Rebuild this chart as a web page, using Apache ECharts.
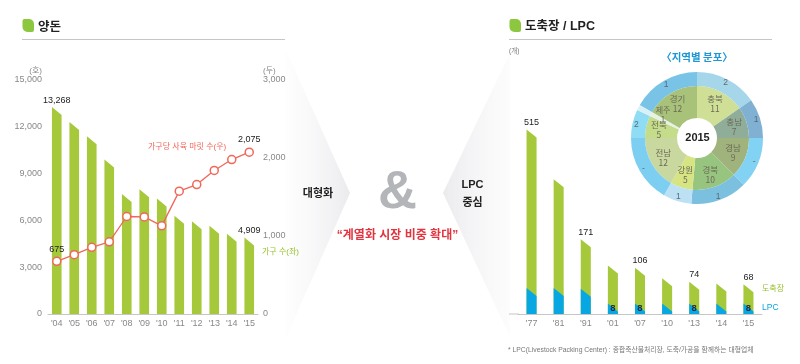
<!DOCTYPE html>
<html><head><meta charset="utf-8">
<script src="https://cdn.jsdelivr.net/npm/echarts@6/dist/echarts.min.js"></script>
<style>html,body{margin:0;padding:0;background:#fff}#c{width:800px;height:364px}</style>
</head><body><div id="c"></div>
<script>
// ---- Left chart: 양돈 ----
const pigYears = ["'04","'05","'06","'07","'08","'09","'10","'11","'12","'13","'14","'15"];
const pigFarms = [13268, 12300, 11400, 9900, 7700, 8000, 7400, 6300, 5950, 5650, 5150, 4909];
const pigPerFarm = [675, 760, 855, 925, 1250, 1245, 1130, 1575, 1660, 1840, 1980, 2075];
const pigFarmsLabelShown = [true,false,false,false,false,false,false,false,false,false,false,true];
const pigPerFarmLabelShown = [true,false,false,false,false,false,false,false,false,false,false,true];
// ---- Right chart: 도축장 / LPC ----
const slYears = ["'77","'81","'91","'01","'07","'10","'13","'14","'15"];
const slaughter = [515, 308, 171, 111, 106, 82, 74, 70, 68];
const slaughterLabelShown = [true,false,true,false,true,false,true,false,true];
const lpc = [20, 20, 19.5, 8, 8, 8, 8, 8, 8];
const lpcLabelShown = [false,false,false,true,true,false,true,false,true];
// ---- Donut: 지역별 분포 (2015) ----
const regions = ['충북','충남','경남','경북','강원','전남','전북','제주','경기'];
const regionSlaughter = [11, 7, 9, 10, 5, 12, 5, 1, 12];
const regionLpc = ['2','1','-','1','1','-','2','','1'];

const FONT = "'Liberation Sans','Noto Sans CJK KR',sans-serif";
const KFONT = "'Noto Sans CJK KR','Liberation Sans',sans-serif";
const GREEN = '#a5c93a', BLUE = '#07a7e3', CORAL = '#f0675a';
const innerColors = ['#cfe096','#8fad98','#a1b37c','#97c47e','#d6e483','#c8d89f','#c5dc8a','#e6f2e6','#a8c27a'];
const outerColors = ['#a6d6e9','#80b1d3','#82d2f3','#7cc0df','#bde1f4','#7ccff0','#8fdcf5','#d9f0f6','#78c3e6'];
const fmt = v => Number(v).toLocaleString('en-US');

function slopedBar(o) {
  return function (params, api) {
    const i = params.dataIndex;
    const xv = api.value(0), v = api.value(1);
    const cs = params.coordSys;
    const p = api.coord([xv, v]);
    const b = api.coord([xv, 0]);
    const ty = Math.max(p[1], cs.y);
    const w = api.size([1, 0])[0] * o.ratio;
    const x0 = p[0] - w / 2, x1 = p[0] + w / 2;
    const s = Math.min(o.slope, b[1] - ty);
    const children = [{
      type: 'polygon',
      shape: { points: [[x0, ty], [x1, ty + s], [x1, b[1]], [x0, b[1]]] },
      style: { fill: o.color }
    }];
    if (o.shown[i]) {
      children.push({
        type: 'text',
        style: {
          text: fmt(v), x: p[0], y: o.inside ? b[1] - 0.5 : ty - 2.5,
          align: 'center', verticalAlign: 'bottom',
          fontSize: o.fontSize, fontFamily: FONT, fontWeight: o.weight || 'normal', fill: o.labelColor
        }
      });
    }
    return { type: 'group', children };
  };
}

function txt(x, y, text, st) {
  return Object.assign({ type: 'text', x, y, z: 20, style: Object.assign({ text, align: 'left', verticalAlign: 'middle', fontFamily: FONT, fontSize: 9, fill: '#333' }, st) });
}

// small-sector (제주) label of the donut, placed beside its thin slice
const jejuIdx = regions.indexOf('제주');

const chart = echarts.init(document.getElementById('c'), null, { renderer: 'canvas' });
const option = {
  animation: false,
  textStyle: { fontFamily: FONT },
  graphic: [
    { type: 'polygon', z: 0, shape: { points: [[285, 48], [350, 193], [285, 340]] },
      style: { fill: { type: 'linear', x: 0, y: 0, x2: 1, y2: 0, colorStops: [{ offset: 0, color: 'rgba(244,244,246,0.1)' }, { offset: 1, color: 'rgba(235,235,238,1)' }] } } },
    { type: 'polygon', z: 0, shape: { points: [[443, 193], [510, 53], [510, 337]] },
      style: { fill: { type: 'linear', x: 0, y: 0, x2: 1, y2: 0, colorStops: [{ offset: 0, color: 'rgba(235,235,238,1)' }, { offset: 1, color: 'rgba(244,244,246,0.25)' }] } } },
    // headers
    { type: 'rect', z: 20, shape: { x: 22.5, y: 19, width: 11.5, height: 13, r: [2, 5, 2, 5] }, style: { fill: '#8dc63f' } },
    txt(38, 26, '양돈', { fontSize: 12.5, fontWeight: 'bold', fill: '#222', fontFamily: KFONT }),
    { type: 'line', z: 20, shape: { x1: 22, y1: 39.5, x2: 285, y2: 39.5 }, style: { stroke: '#c6c6c6', lineWidth: 1 } },
    { type: 'rect', z: 20, shape: { x: 509.5, y: 19, width: 11.5, height: 13, r: [2, 5, 2, 5] }, style: { fill: '#8dc63f' } },
    txt(525, 26.5, '도축장 / LPC', { fontSize: 12.5, fontWeight: 'bold', fill: '#222' }),
    { type: 'line', z: 20, shape: { x1: 509, y1: 39.5, x2: 772, y2: 39.5 }, style: { stroke: '#c6c6c6', lineWidth: 1 } },
    // middle
    txt(318, 193, '대형화', { fontSize: 11, fontWeight: 'bold', fill: '#222', align: 'center', fontFamily: KFONT }),
    txt(397.5, 193, '&', { fontSize: 54, fontWeight: 'bold', fill: '#b4b5b9', align: 'center' }),
    txt(472.5, 185, 'LPC', { fontSize: 11, fontWeight: 'bold', fill: '#222', align: 'center' }),
    txt(472.5, 201.5, '중심', { fontSize: 11, fontWeight: 'bold', fill: '#222', align: 'center', fontFamily: KFONT }),
    txt(397.5, 235.5, '“계열화 시장 비중 확대”', { fontSize: 12, fontWeight: 'bold', fill: '#e2343f', align: 'center' }),
    // left annotations
    txt(148, 147, '가구당 사육 마릿 수(우)', { fontSize: 8, fill: CORAL }),
    txt(262, 252, '가구 수(좌)', { fontSize: 8, fill: '#96c12e' }),
    // right annotations
    txt(509, 51.5, '(개)', { fontSize: 6.5, fill: '#777' }),
    txt(762, 288.5, '도축장', { fontSize: 8, fill: '#96c12e' }),
    txt(762, 307.5, 'LPC', { fontSize: 8.5, fill: BLUE }),
    txt(697, 57, '〈지역별 분포〉', { fontSize: 10.5, fontWeight: 'bold', fill: '#1b98d6', align: 'center', fontFamily: KFONT }),
    txt(697.5, 138, '2015', { fontSize: 11, fontWeight: 'bold', fill: '#222', align: 'center' }),
    txt(663, 114.5, regions[jejuIdx] + '\n' + regionSlaughter[jejuIdx], { fontSize: 8, lineHeight: 8.5, fill: '#6b6b58', align: 'center', fontFamily: KFONT }),
    txt(508, 350.5, '* LPC(Livestock Packing Center) : 종합축산물처리장, 도축/가공을 함께하는 대형업체', { fontSize: 6.8, fill: '#777' }),
    { type: 'line', z: 20, shape: { x1: 509, y1: 314, x2: 519, y2: 314 }, style: { stroke: '#c6c6c6', lineWidth: 1 } }
  ],
  grid: [
    { left: 48, top: 80, width: 210, height: 234 },
    { left: 518, top: 129.5, width: 244, height: 184.5 }
  ],
  xAxis: [
    { type: 'category', gridIndex: 0, data: pigYears, axisTick: { show: false },
      axisLine: { lineStyle: { color: '#c6c6c6', width: 1 } },
      axisLabel: { color: '#888', fontSize: 9, margin: 5 } },
    { type: 'category', gridIndex: 1, data: slYears, axisTick: { show: false },
      axisLine: { lineStyle: { color: '#c6c6c6', width: 1 } },
      axisLabel: { color: '#888', fontSize: 9, margin: 5 } }
  ],
  yAxis: [
    { type: 'value', gridIndex: 0, min: 0, max: 15000, interval: 3000,
      splitLine: { show: false }, axisLine: { show: false }, axisTick: { show: false },
      axisLabel: { color: '#888', fontSize: 9, margin: 6, formatter: fmt },
      name: '(호)', nameLocation: 'end', nameGap: 5,
      nameTextStyle: { color: '#888', fontSize: 8, align: 'right', padding: [0, 6, 0, 0] } },
    { type: 'value', gridIndex: 0, position: 'right', min: 0, max: 3000, interval: 1000,
      splitLine: { show: false }, axisLine: { show: false }, axisTick: { show: false },
      axisLabel: { color: '#888', fontSize: 9, margin: 5, formatter: fmt },
      name: '(두)', nameLocation: 'end', nameGap: 5,
      nameTextStyle: { color: '#888', fontSize: 8, align: 'left', padding: [0, 0, 0, 5] } },
    { type: 'value', gridIndex: 1, min: 0, max: 422, show: false },
    { type: 'value', gridIndex: 1, min: 0, max: 142, show: false }
  ],
  series: [
    { type: 'custom', xAxisIndex: 0, yAxisIndex: 0, z: 2,
      renderItem: slopedBar({ color: GREEN, ratio: 0.55, slope: 8, shown: pigFarmsLabelShown, fontSize: 9, labelColor: '#222' }),
      encode: { x: 0, y: 1 },
      data: pigFarms.map((v, i) => [i, v]) },
    { type: 'line', xAxisIndex: 0, yAxisIndex: 1, z: 5,
      data: pigPerFarm.map((v, i) => ({ value: v, label: { show: pigPerFarmLabelShown[i] } })),
      symbol: 'circle', symbolSize: 8,
      lineStyle: { color: CORAL, width: 1.3 },
      itemStyle: { color: '#fff', borderColor: CORAL, borderWidth: 1.5 },
      label: { position: 'top', distance: 3, color: '#222', fontSize: 9, formatter: p => fmt(p.value) } },
    { type: 'custom', xAxisIndex: 1, yAxisIndex: 2, z: 2,
      renderItem: slopedBar({ color: GREEN, ratio: 0.37, slope: 8, shown: slaughterLabelShown, fontSize: 9, labelColor: '#222' }),
      encode: { x: 0, y: 1 },
      data: slaughter.map((v, i) => [i, v]) },
    { type: 'custom', xAxisIndex: 1, yAxisIndex: 3, z: 3,
      renderItem: slopedBar({ color: BLUE, ratio: 0.37, slope: 8, shown: lpcLabelShown, inside: true, fontSize: 9.5, weight: 'bold', labelColor: '#1d2b3a' }),
      encode: { x: 0, y: 1 },
      data: lpc.map((v, i) => [i, v]) },
    { type: 'pie', center: [697, 138], radius: [20, 52], startAngle: 90, z: 4,
      label: { position: 'inside', formatter: p => (p.dataIndex === jejuIdx ? '' : p.name + '\n' + p.value), fontSize: 8.5, lineHeight: 10, color: '#6b6b58', fontFamily: KFONT },
      labelLine: { show: false }, emphasis: { disabled: true },
      data: regions.map((n, i) => ({ name: n, value: regionSlaughter[i], itemStyle: { color: innerColors[i] } })) },
    { type: 'pie', center: [697, 138], radius: [52, 66], startAngle: 90, z: 4,
      label: { position: 'inside', formatter: p => regionLpc[p.dataIndex], fontSize: 8.5, color: '#5a6a74' },
      labelLine: { show: false }, emphasis: { disabled: true },
      data: regions.map((n, i) => ({ name: n, value: regionSlaughter[i], itemStyle: { color: outerColors[i] } })) }
  ]
};
chart.setOption(option);
</script>
</body></html>
